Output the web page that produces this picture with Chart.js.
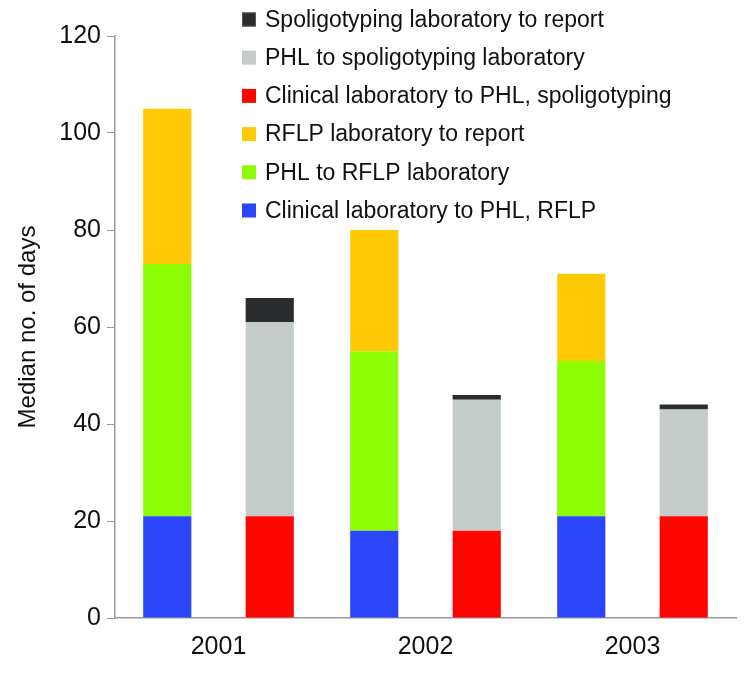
<!DOCTYPE html>
<html>
<head>
<meta charset="utf-8">
<script src="https://cdn.jsdelivr.net/npm/chart.js@4/dist/chart.umd.min.js"></script>
<style>
  html, body { margin: 0; padding: 0; background: #fff; }
  #wrap { width: 750px; height: 673px; position: relative; }
</style>
</head>
<body>
<div id="wrap"><canvas id="c"></canvas></div>
<script>
// ── Data ───────────────────────────────────────────────
const years = ['2001', '2002', '2003'];

// RFLP stack
const clinToPhlRflp = [21, 18, 21];
const phlToRflp = [52, 37, 32];
const rflpToReport = [32, 25, 18];

// Spoligotyping stack
const clinToPhlSpol = [21, 18, 21];
const phlToSpol = [40, 27, 22];
const spolToReport = [5, 1, 1];

const yTicks = [0, 20, 40, 60, 80, 100, 120];

const C = {
  blue: '#2B45F8',
  green: '#8DFC04',
  yellow: '#FFCA05',
  red: '#FE0500',
  grey: '#C4CBC9',
  dark: '#2A2C2E',
  axis: '#9A9A9A',
  font: '"Liberation Sans", Arial, sans-serif',
};

const ds = (label, data, color, stack) => ({
  label, data, stack,
  backgroundColor: color,
  borderWidth: 0,
  categoryPercentage: 0.99,
  barPercentage: 0.47,
});

// ── Legend drawn over the plot (top right, reversed) ───
const overlayLegend = {
  id: 'overlayLegend',
  afterDraw(chart) {
    const { ctx } = chart;
    const items = chart.data.datasets.slice().reverse();
    ctx.save();
    ctx.font = '23px ' + C.font;
    ctx.textBaseline = 'middle';
    items.forEach((d, i) => {
      const y = 19.5 + i * 38.2;
      ctx.fillStyle = d.backgroundColor;
      ctx.fillRect(242, y - 7, 14, 14);
      if (d.label.startsWith('Spoligotyping')) {
        ctx.strokeStyle = '#555';
        ctx.lineWidth = 1;
        ctx.strokeRect(242.5, y - 6.5, 13, 13);
      }
      ctx.fillStyle = '#111';
      ctx.fillText(d.label, 265, y + 1);
    });
    ctx.restore();
  }
};

new Chart(document.getElementById('c'), {
  type: 'bar',
  data: {
    labels: years,
    datasets: [
      ds('Clinical laboratory to PHL, RFLP', clinToPhlRflp, C.blue, 'rflp'),
      ds('PHL to RFLP laboratory', phlToRflp, C.green, 'rflp'),
      ds('RFLP laboratory to report', rflpToReport, C.yellow, 'rflp'),
      ds('Clinical laboratory to PHL, spoligotyping', clinToPhlSpol, C.red, 'spol'),
      ds('PHL to spoligotyping laboratory', phlToSpol, C.grey, 'spol'),
      ds('Spoligotyping laboratory to report', spolToReport, C.dark, 'spol'),
    ]
  },
  options: {
    responsive: true, maintainAspectRatio: false, animation: false,
    layout: { padding: { top: 36, right: 14, left: 14, bottom: 0 } },
    plugins: { legend: { display: false }, tooltip: { enabled: false } },
    scales: {
      x: {
        stacked: true,
        grid: { display: false, drawTicks: false },
        border: { color: C.axis, width: 1.5 },
        ticks: { color: '#111', padding: 14, font: { family: C.font, size: 25 } },
        afterFit(s) { s.height = 55; },
      },
      y: {
        stacked: true, min: 0, max: 120,
        afterBuildTicks(s) { s.ticks = yTicks.map(v => ({ value: v })); },
        grid: { display: true, drawOnChartArea: false, drawTicks: true, tickLength: 8, color: C.axis },
        border: { color: C.axis, width: 1.5 },
        ticks: { color: '#111', padding: 6, font: { family: C.font, size: 25 } },
        title: { display: true, text: 'Median no. of days', color: '#111', padding: { top: 0, bottom: 0 }, font: { family: C.font, size: 24 } },
        afterFit(s) { s.width = 101; },
      }
    }
  },
  plugins: [overlayLegend]
});
</script>
</body>
</html>
